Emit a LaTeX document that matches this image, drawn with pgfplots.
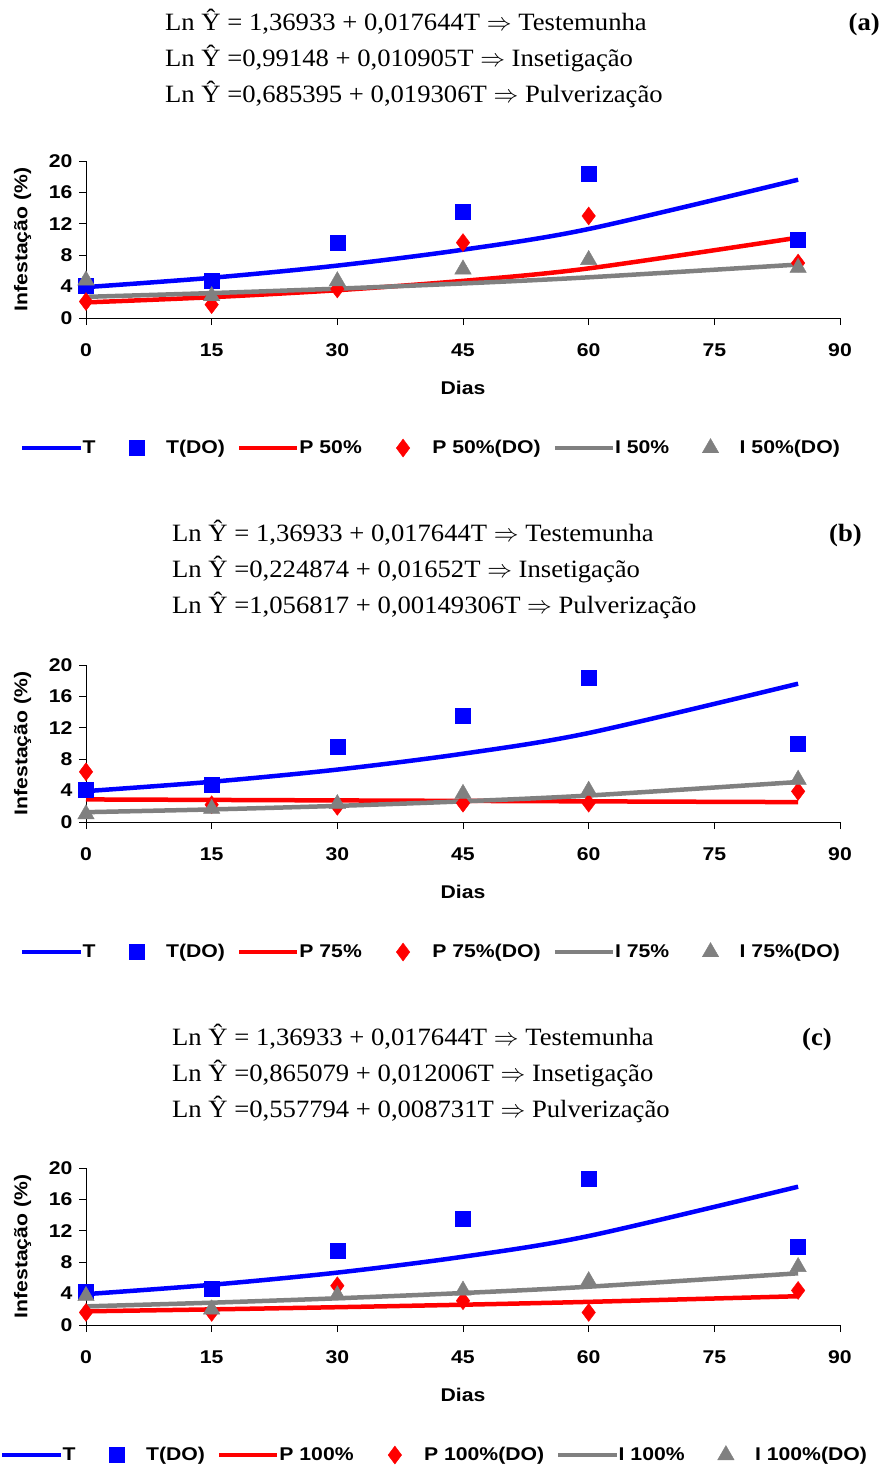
\documentclass[border=0pt]{standalone}
\usepackage{fontspec}
\setmainfont{Liberation Serif}
\setsansfont{Liberation Sans}[FakeStretch=1.15]
\newfontfamily\eqfont{Liberation Serif}[FakeStretch=1.07]
\usepackage{pgfplots}
\pgfplotsset{compat=1.18}
\definecolor{tblue}{RGB}{0,0,255}
\definecolor{pred}{RGB}{255,0,0}
\definecolor{igray}{RGB}{128,128,128}

\pgfplotsset{
  panel/.style={
    scale only axis, width=754bp, height=157bp,
    xmin=0, xmax=90, ymin=0, ymax=20,
    axis x line=bottom, axis y line=left,
    axis line style={-, line width=1bp},
    xtick={0,15,...,90}, ytick={0,4,...,20},
    tick align=outside, major tick length=7bp,
    tick style={line width=1bp, black},
    tick label style={font=\sffamily\bfseries\fontsize{18.5}{20}\selectfont},
    /pgf/number format/assume math mode=true,
    xticklabel style={yshift=-15bp},
    yticklabel style={xshift=-3bp},
    xlabel={Dias}, ylabel={Infestação (\%)},
    label style={font=\sffamily\bfseries\fontsize{18.5}{20}\selectfont},
    xlabel style={at={(axis description cs:0.5,-0.446)}, anchor=center},
    ylabel style={at={(axis description cs:-0.084,0.5)}, anchor=center},
    clip=false,
    legend columns=6,
    legend style={draw=none, fill=none, inner sep=0pt, anchor=west,
      font=\sffamily\bfseries\fontsize{18.5}{20}\selectfont,
      nodes={inner xsep=0pt, inner ysep=2bp},
      /tikz/every even column/.append style={column sep=12bp}},
    legend image code/.code={
      \path (0bp,0bp) (58bp,0bp);
      \draw[mark repeat=2, mark phase=2, ##1] plot coordinates {(0bp,0bp) (29bp,0bp) (58bp,0bp)};},
  },
  fitT/.style={color=tblue, line width=4.5bp, smooth, no markers},
  fitP/.style={color=pred, line width=4.5bp, smooth, no markers},
  fitI/.style={color=igray, line width=4.5bp, smooth, no markers},
  obsT/.style={only marks, mark=square*, mark size=7.5bp, color=tblue},
  obsP/.style={only marks, mark=diamond*, mark size=9bp, color=pred},
  obsI/.style={only marks, mark=triangle*, mark size=9.5bp, color=igray},
}

\begin{document}
\begin{tikzpicture}
\useasboundingbox (0,0) rectangle (885bp,-1468bp);

% ---------- (a)
\begin{scope}[font=\eqfont\fontsize{25}{28}\selectfont]
\node[anchor=base west, inner sep=0pt] at (165bp,-30bp) {Ln Ŷ = 1,36933 + 0,017644T $\Rightarrow$ Testemunha};
\node[anchor=base west, inner sep=0pt] at (165bp,-66bp) {Ln Ŷ =0,99148 + 0,010905T $\Rightarrow$ Insetigação};
\node[anchor=base west, inner sep=0pt] at (165bp,-102bp) {Ln Ŷ =0,685395 + 0,019306T $\Rightarrow$ Pulverização};
\node[anchor=base east, inner sep=0pt] at (880bp,-30bp) {\textbf{(a)}};
\end{scope}
\begin{axis}[panel, at={(86bp,-318bp)}, anchor=south west,
  legend style={at={(axis description cs:-0.0875,-0.828)}}]
\addplot[fitT] coordinates {(0,3.933) (15,5.125) (30,6.677) (45,8.700) (60,11.337) (85,17.62)};
\addlegendentry{T}
\addplot[obsT] coordinates {(0,4.1) (15,4.7) (30,9.6) (45,13.5) (60,18.4) (85,10.0)};
\addlegendentry{T(DO)}
\addplot[fitP] coordinates {(0,1.985) (15,2.651) (30,3.542) (45,4.731) (60,6.320) (85,10.24)};
\addlegendentry{P 50\%}
\addplot[obsP] coordinates {(0,2.1) (15,1.7) (30,3.7) (45,9.6) (60,13.0) (85,7.0)};
\addlegendentry{P 50\%(DO)}
\addplot[fitI] coordinates {(0,2.695) (15,3.174) (30,3.738) (45,4.402) (60,5.185) (85,6.81)};
\addlegendentry{I 50\%}
\addplot[obsI] coordinates {(0,4.8) (15,2.8) (30,4.7) (45,6.2) (60,7.4) (85,6.4)};
\addlegendentry{I 50\%(DO)}
\end{axis}

% ---------- (b)
\begin{scope}[font=\eqfont\fontsize{25}{28}\selectfont]
\node[anchor=base west, inner sep=0pt] at (172bp,-541bp) {Ln Ŷ = 1,36933 + 0,017644T $\Rightarrow$ Testemunha};
\node[anchor=base west, inner sep=0pt] at (172bp,-577bp) {Ln Ŷ =0,224874 + 0,01652T $\Rightarrow$ Insetigação};
\node[anchor=base west, inner sep=0pt] at (172bp,-613bp) {Ln Ŷ =1,056817 + 0,00149306T $\Rightarrow$ Pulverização};
\node[anchor=base east, inner sep=0pt] at (862bp,-541bp) {\textbf{(b)}};
\end{scope}
\begin{axis}[panel, at={(86bp,-822bp)}, anchor=south west,
  legend style={at={(axis description cs:-0.0875,-0.828)}}]
\addplot[fitT] coordinates {(0,3.933) (15,5.125) (30,6.677) (45,8.700) (60,11.337) (85,17.62)};
\addlegendentry{T}
\addplot[obsT] coordinates {(0,4.1) (15,4.7) (30,9.6) (45,13.5) (60,18.4) (85,10.0)};
\addlegendentry{T(DO)}
\addplot[fitP] coordinates {(0,2.877) (15,2.814) (30,2.751) (45,2.690) (60,2.631) (85,2.534)};
\addlegendentry{P 75\%}
\addplot[obsP] coordinates {(0,6.4) (15,2.2) (30,2.0) (45,2.4) (60,2.4) (85,3.9)};
\addlegendentry{P 75\%(DO)}
\addplot[fitI] coordinates {(0,1.252) (15,1.604) (30,2.055) (45,2.633) (60,3.374) (85,5.099)};
\addlegendentry{I 75\%}
\addplot[obsI] coordinates {(0,1.0) (15,1.7) (30,2.3) (45,3.6) (60,4.0) (85,5.4)};
\addlegendentry{I 75\%(DO)}
\end{axis}

% ---------- (c)
\begin{scope}[font=\eqfont\fontsize{25}{28}\selectfont]
\node[anchor=base west, inner sep=0pt] at (172bp,-1045bp) {Ln Ŷ = 1,36933 + 0,017644T $\Rightarrow$ Testemunha};
\node[anchor=base west, inner sep=0pt] at (172bp,-1081bp) {Ln Ŷ =0,865079 + 0,012006T $\Rightarrow$ Insetigação};
\node[anchor=base west, inner sep=0pt] at (172bp,-1117bp) {Ln Ŷ =0,557794 + 0,008731T $\Rightarrow$ Pulverização};
\node[anchor=base east, inner sep=0pt] at (832bp,-1045bp) {\textbf{(c)}};
\end{scope}
\begin{axis}[panel, at={(86bp,-1325bp)}, anchor=south west,
  legend style={at={(axis description cs:-0.114,-0.828)}}]
\addplot[fitT] coordinates {(0,3.933) (15,5.125) (30,6.677) (45,8.700) (60,11.337) (85,17.62)};
\addlegendentry{T}
\addplot[obsT] coordinates {(0,4.2) (15,4.65) (30,9.5) (45,13.5) (60,18.6) (85,10.0)};
\addlegendentry{T(DO)}
\addplot[fitP] coordinates {(0,1.747) (15,1.991) (30,2.270) (45,2.587) (60,2.950) (85,3.669)};
\addlegendentry{P 100\%}
\addplot[obsP] coordinates {(0,1.6) (15,1.6) (30,5.0) (45,3.1) (60,1.6) (85,4.4)};
\addlegendentry{P 100\%(DO)}
\addplot[fitI] coordinates {(0,2.375) (15,2.844) (30,3.405) (45,4.077) (60,4.881) (85,6.590)};
\addlegendentry{I 100\%}
\addplot[obsI] coordinates {(0,3.7) (15,2.0) (30,3.8) (45,4.4) (60,5.6) (85,7.4)};
\addlegendentry{I 100\%(DO)}
\end{axis}
\end{tikzpicture}
\end{document}
